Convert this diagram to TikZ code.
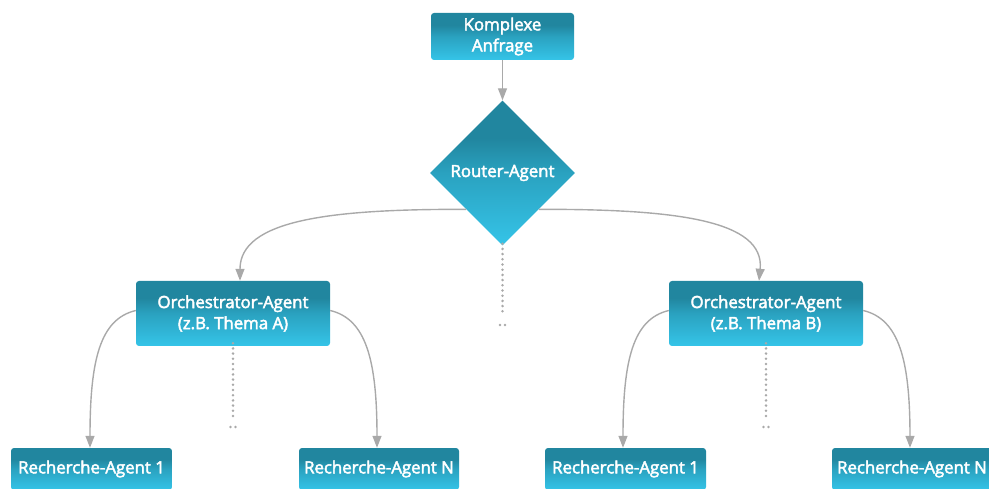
\documentclass[tikz,border=0pt]{standalone}
\usepackage{fontspec}
\setmainfont{Open Sans}
\newcommand{\semibtxt}[1]{\special{pdf:literal direct 2 Tr 0.45 w}#1\special{pdf:literal direct 0 Tr}}
\usetikzlibrary{arrows.meta,shapes.geometric}
\definecolor{boxdark}{HTML}{21869F}
\definecolor{boxlight}{HTML}{35C4E8}
\definecolor{edgegray}{HTML}{A9A9A9}
\pgfdeclareverticalshading{boxshade}{100bp}{color(0bp)=(boxlight); color(25bp)=(boxlight); color(50bp)=(boxdark!55!boxlight); color(62bp)=(boxdark); color(100bp)=(boxdark)}
\tikzset{
  agentbox/.style={rectangle, rounded corners=3pt, shading=boxshade, draw=none,
    text=white, font=\fontsize{16.8}{21}\selectfont, align=center, inner sep=0pt},
  routerbox/.style={diamond, shading=boxshade, draw=none, aspect=1,
    text=white, font=\fontsize{16.8}{21}\selectfont, align=center, inner sep=0pt,
    minimum width=145pt, minimum height=145pt},
  flow/.style={draw=edgegray, line width=1.4pt, -{Triangle[length=12pt,width=9pt]}},
  dotline/.style={draw=edgegray, line width=2.8pt, dash pattern=on 0pt off 5.2pt, line cap=round},
}
\begin{document}
\begin{tikzpicture}[x=1pt,y=-1pt]
\useasboundingbox (0,0) rectangle (989,489);
\node[agentbox, minimum width=143pt, minimum height=47pt] (anf) at (502.5,36.5) {\semibtxt{Komplexe}\\\semibtxt{Anfrage}};
\node[routerbox] (r) at (502.5,173) {\semibtxt{Router-Agent}};
\node[agentbox, minimum width=194pt, minimum height=65pt] (oa) at (233,313.5) {\semibtxt{Orchestrator-Agent}\\\semibtxt{(z.B. Thema A)}};
\node[agentbox, minimum width=194pt, minimum height=65pt] (ob) at (766,313.5) {\semibtxt{Orchestrator-Agent}\\\semibtxt{(z.B. Thema B)}};
\node[agentbox, minimum width=161pt, minimum height=42pt] (ra1) at (91.5,469) {\semibtxt{Recherche-Agent 1}};
\node[agentbox, minimum width=160pt, minimum height=42pt] (ran) at (379,469) {\semibtxt{Recherche-Agent N}};
\node[agentbox, minimum width=161pt, minimum height=42pt] (rb1) at (625.5,469) {\semibtxt{Recherche-Agent 1}};
\node[agentbox, minimum width=160pt, minimum height=42pt] (rbn) at (912,469) {\semibtxt{Recherche-Agent N}};
% edges
\draw[flow] (anf.south) -- (r.north);
\draw[flow] (r.south west) .. controls (330,209) and (240,220) .. ([xshift=7pt]oa.north);
\draw[flow] (r.south east) .. controls (675,209) and (765,220) .. ([xshift=-7pt]ob.north);
\draw[flow] ([yshift=3pt]oa.west) .. controls (100,319) and (90,360) .. ([xshift=-1.5pt]ra1.north);
\draw[flow] ([yshift=3pt]oa.east) .. controls (366,319) and (377,360) .. ([xshift=-2pt]ran.north);
\draw[flow] ([yshift=3pt]ob.west) .. controls (633,319) and (623,360) .. ([xshift=-2.5pt]rb1.north);
\draw[flow] ([yshift=3pt]ob.east) .. controls (899,319) and (910,360) .. ([xshift=-2pt]rbn.north);
% dotted continuations
\coordinate (rd) at (502.5,316);
\coordinate (oad) at (233,418);
\coordinate (obd) at (766,418);
\draw[dotline] ([yshift=2pt]r.south) -- (rd);
\draw[dotline] ([yshift=3pt]oa.south) -- (oad);
\draw[dotline] ([yshift=3pt]ob.south) -- (obd);
\foreach \c in {rd,oad,obd}{
  \fill[edgegray] ([shift={(-2.5,9)}]\c) circle (1.4pt);
  \fill[edgegray] ([shift={(2.5,9)}]\c) circle (1.4pt);
}
\end{tikzpicture}
\end{document}
